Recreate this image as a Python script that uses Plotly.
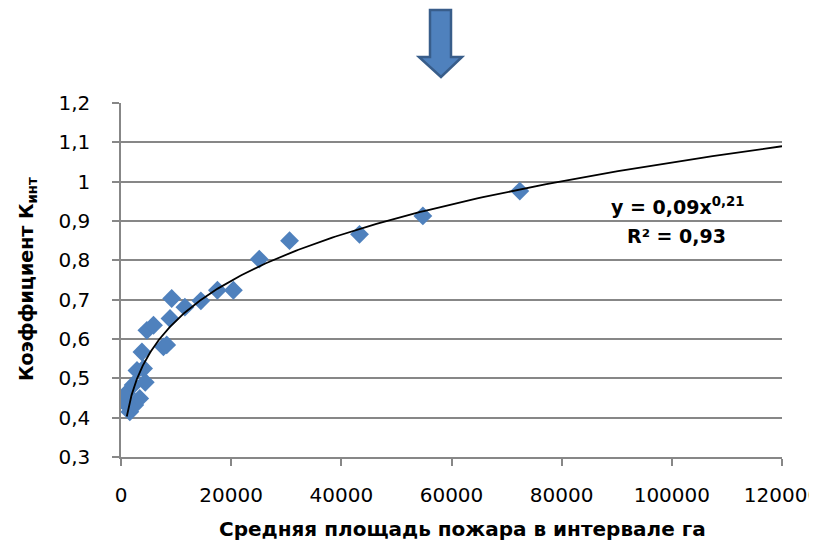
import numpy as np
import plotly.graph_objects as go

# Data
area_ha = [500, 1000, 1600, 2200, 2500, 2900, 3400, 3800, 4100, 4400, 4700, 5900,
           7700, 8300, 8900, 9200, 11600, 14500, 17500, 20400, 25100, 30600,
           43300, 54800, 72400]
k_int = [0.44, 0.462, 0.415, 0.483, 0.432, 0.52, 0.449, 0.567, 0.525, 0.49, 0.622, 0.635,
         0.58, 0.585, 0.652, 0.703, 0.681, 0.697, 0.724, 0.724, 0.803, 0.85,
         0.866, 0.913, 0.976]

# Power trendline parameters (y = A * x^B)
A_COEF = 0.0935
B_EXP = 0.21
TREND_X_MIN = 1050
TREND_X_MAX = 120000

y_ticks = [0.3, 0.4, 0.5, 0.6, 0.7, 0.8, 0.9, 1.0, 1.1, 1.2]
y_tick_text = ["0,3", "0,4", "0,5", "0,6", "0,7", "0,8", "0,9", "1", "1,1", "1,2"]
x_ticks = [0, 20000, 40000, 60000, 80000, 100000, 120000]
x_tick_text = ["0", "20000", "40000", "60000", "80000", "100000", "120000"]

FONT = "DejaVu Sans"
GRID = "#878787"
BLUE = "#4F81BD"

tx = np.geomspace(TREND_X_MIN, TREND_X_MAX, 300)
ty = A_COEF * tx ** B_EXP

fig = go.Figure()
fig.add_trace(go.Scatter(
    x=area_ha, y=k_int, mode="markers",
    marker=dict(symbol="diamond", size=14.5, color=BLUE, line=dict(width=0)),
    showlegend=False, hoverinfo="x+y"))
fig.add_trace(go.Scatter(
    x=tx, y=ty, mode="lines", line=dict(color="black", width=1.8),
    showlegend=False, hoverinfo="skip"))

# page body has an 8px margin; lay out in screen pixels
OFF = 8
W, H = 817 - OFF, 541 - OFF
PX_L, PX_R, PX_T, PX_B = 121, 782, 103, 457   # plot area in screen pixels
L = PX_L - OFF
T = PX_T - OFF
pw = PX_R - PX_L
ph = PX_B - PX_T
R = W - L - pw
B = H - T - ph

def px2paper(sx, sy):
    return (sx - PX_L) / pw, (PX_B - sy) / ph

# down arrow decoration at top
arrow_pts = [(430, 10), (451, 10), (451, 57), (462, 57), (441, 77), (419, 57), (430, 57)]
path = ""
for i, (ax_, ay_) in enumerate(arrow_pts):
    xp, yp = px2paper(ax_, ay_)
    path += ("M" if i == 0 else "L") + f"{xp:.5f},{yp:.5f} "
path += "Z"

def ann(text, sx, sy, size, angle=0):
    xp, yp = px2paper(sx, sy)
    return dict(text=text, xref="paper", yref="paper", x=xp, y=yp, showarrow=False,
                textangle=angle, font=dict(family=FONT, size=size, color="black"),
                xanchor="center", yanchor="middle")

fig.update_layout(
    width=W, height=H,
    margin=dict(l=L, r=R, t=T, b=B, pad=0, autoexpand=False),
    paper_bgcolor="white", plot_bgcolor="white",
    font=dict(family=FONT, size=20, color="black"),
    xaxis=dict(range=[0, 120000], tickvals=x_ticks, ticktext=x_tick_text,
               showgrid=False, zeroline=False, showline=True, linecolor=GRID, linewidth=1.5,
               ticks="outside", ticklen=7, tickcolor=GRID, tickwidth=1.5,
               tickfont=dict(family=FONT, size=20), ticklabelstandoff=12,
               ticklabeloverflow="allow", automargin=False),
    yaxis=dict(range=[0.3, 1.2], tickvals=y_ticks, ticktext=y_tick_text,
               showgrid=True, gridcolor=GRID, gridwidth=1.5, zeroline=False,
               showline=True, linecolor=GRID, linewidth=1.5,
               ticks="outside", ticklen=7, tickcolor=GRID, tickwidth=1.5,
               tickfont=dict(family=FONT, size=20), ticklabelstandoff=18,
               automargin=False),
    shapes=[dict(type="path", xref="paper", yref="paper", path=path,
                 fillcolor=BLUE, line=dict(color="#385D8A", width=2.5), layer="above")],
    annotations=[
        ann("<b>Средняя площадь пожара в интервале га</b>", 463, 529, 20),
        ann("<b>Коэффициент К<sub>инт</sub></b>", 27, 279, 19, -90),
        ann("<b>y = 0,09x<sup>0,21</sup></b>", 677, 206, 19),
        ann("<b>R² = 0,93</b>", 676, 236, 19),
    ],
)

fig.write_html(
    "out.html",
    post_script=(
        "document.documentElement.style.overflow='hidden';"
        "document.body.style.overflow='hidden';"
    ),
)
